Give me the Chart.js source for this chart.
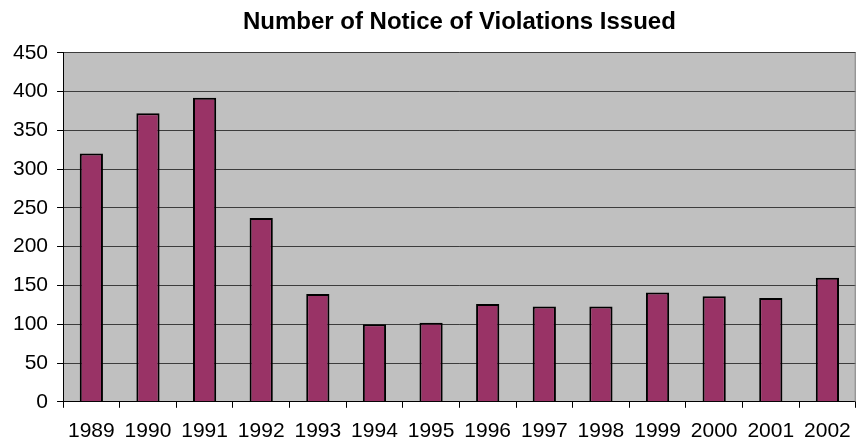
<!DOCTYPE html>
<html>
<head>
<meta charset="utf-8">
<script src="https://cdn.jsdelivr.net/npm/chart.js@4/dist/chart.umd.min.js"></script>
<style>
  html, body { margin: 0; padding: 0; background: #fff; }
  #wrap { width: 862px; height: 443px; }
</style>
</head>
<body>
<div id="wrap"><canvas id="novChart"></canvas></div>
<script>
const years = ["1989", "1990", "1991", "1992", "1993", "1994", "1995",
  "1996", "1997", "1998", "1999", "2000", "2001", "2002"];
const notices = [320, 372, 392, 237, 139, 100, 102, 126, 123, 123, 141, 136, 134, 160];
const yTicks = [0, 50, 100, 150, 200, 250, 300, 350, 400, 450];

// gray plot area with a dark frame, like the old spreadsheet chart
const plotArea = {
  id: 'plotArea',
  beforeDraw(chart) {
    const { ctx, chartArea: a } = chart;
    ctx.save();
    ctx.fillStyle = '#c0c0c0';
    ctx.fillRect(a.left, a.top, a.right - a.left, a.bottom - a.top);
    ctx.restore();
  },
  afterDraw(chart) {
    const { ctx, chartArea: a } = chart;
    ctx.save();
    ctx.strokeStyle = '#808080';
    ctx.lineWidth = 1;
    ctx.beginPath();
    ctx.moveTo(a.right - 0.5, a.top);
    ctx.lineTo(a.right - 0.5, a.bottom);
    ctx.stroke();
    ctx.restore();
  }
};

const ctx = document.getElementById('novChart').getContext('2d');
new Chart(ctx, {
  type: 'bar',
  data: {
    labels: years,
    datasets: [{
      label: 'Notices of Violation',
      data: notices,
      backgroundColor: '#993366',
      borderColor: '#000000',
      borderWidth: 2,
      categoryPercentage: 1,
      barPercentage: 0.41
    }]
  },
  options: {
    responsive: true,
    maintainAspectRatio: false,
    animation: false,
    layout: { padding: { left: 4, right: -15, top: 0, bottom: -12 } },
    plugins: {
      legend: { display: false },
      tooltip: { enabled: false },
      title: {
        display: true,
        fullSize: false,
        text: 'Number of Notice of Violations Issued',
        color: '#000',
        font: { family: 'Liberation Sans', size: 24, weight: 'bold' },
        padding: { top: 8, bottom: 16 }
      }
    },
    scales: {
      x: {
        grid: {
          offset: true,
          drawOnChartArea: false,
          drawTicks: true,
          tickLength: 6,
          color: '#000'
        },
        border: { color: '#000', width: 1 },
        ticks: {
          color: '#000',
          padding: 11,
          maxRotation: 0,
          autoSkip: false,
          font: { family: 'Liberation Sans', size: 21 }
        }
      },
      y: {
        min: 0,
        max: 450,
        afterBuildTicks(axis) {
          axis.ticks = yTicks.map(v => ({ value: v }));
        },
        grid: {
          color: '#3c3c3c',
          lineWidth: 1,
          drawTicks: true,
          tickLength: 6,
          tickColor: '#000'
        },
        border: { color: '#000', width: 1 },
        ticks: {
          color: '#000',
          padding: 9,
          font: { family: 'Liberation Sans', size: 21 }
        }
      }
    }
  },
  plugins: [plotArea]
});
</script>
</body>
</html>
